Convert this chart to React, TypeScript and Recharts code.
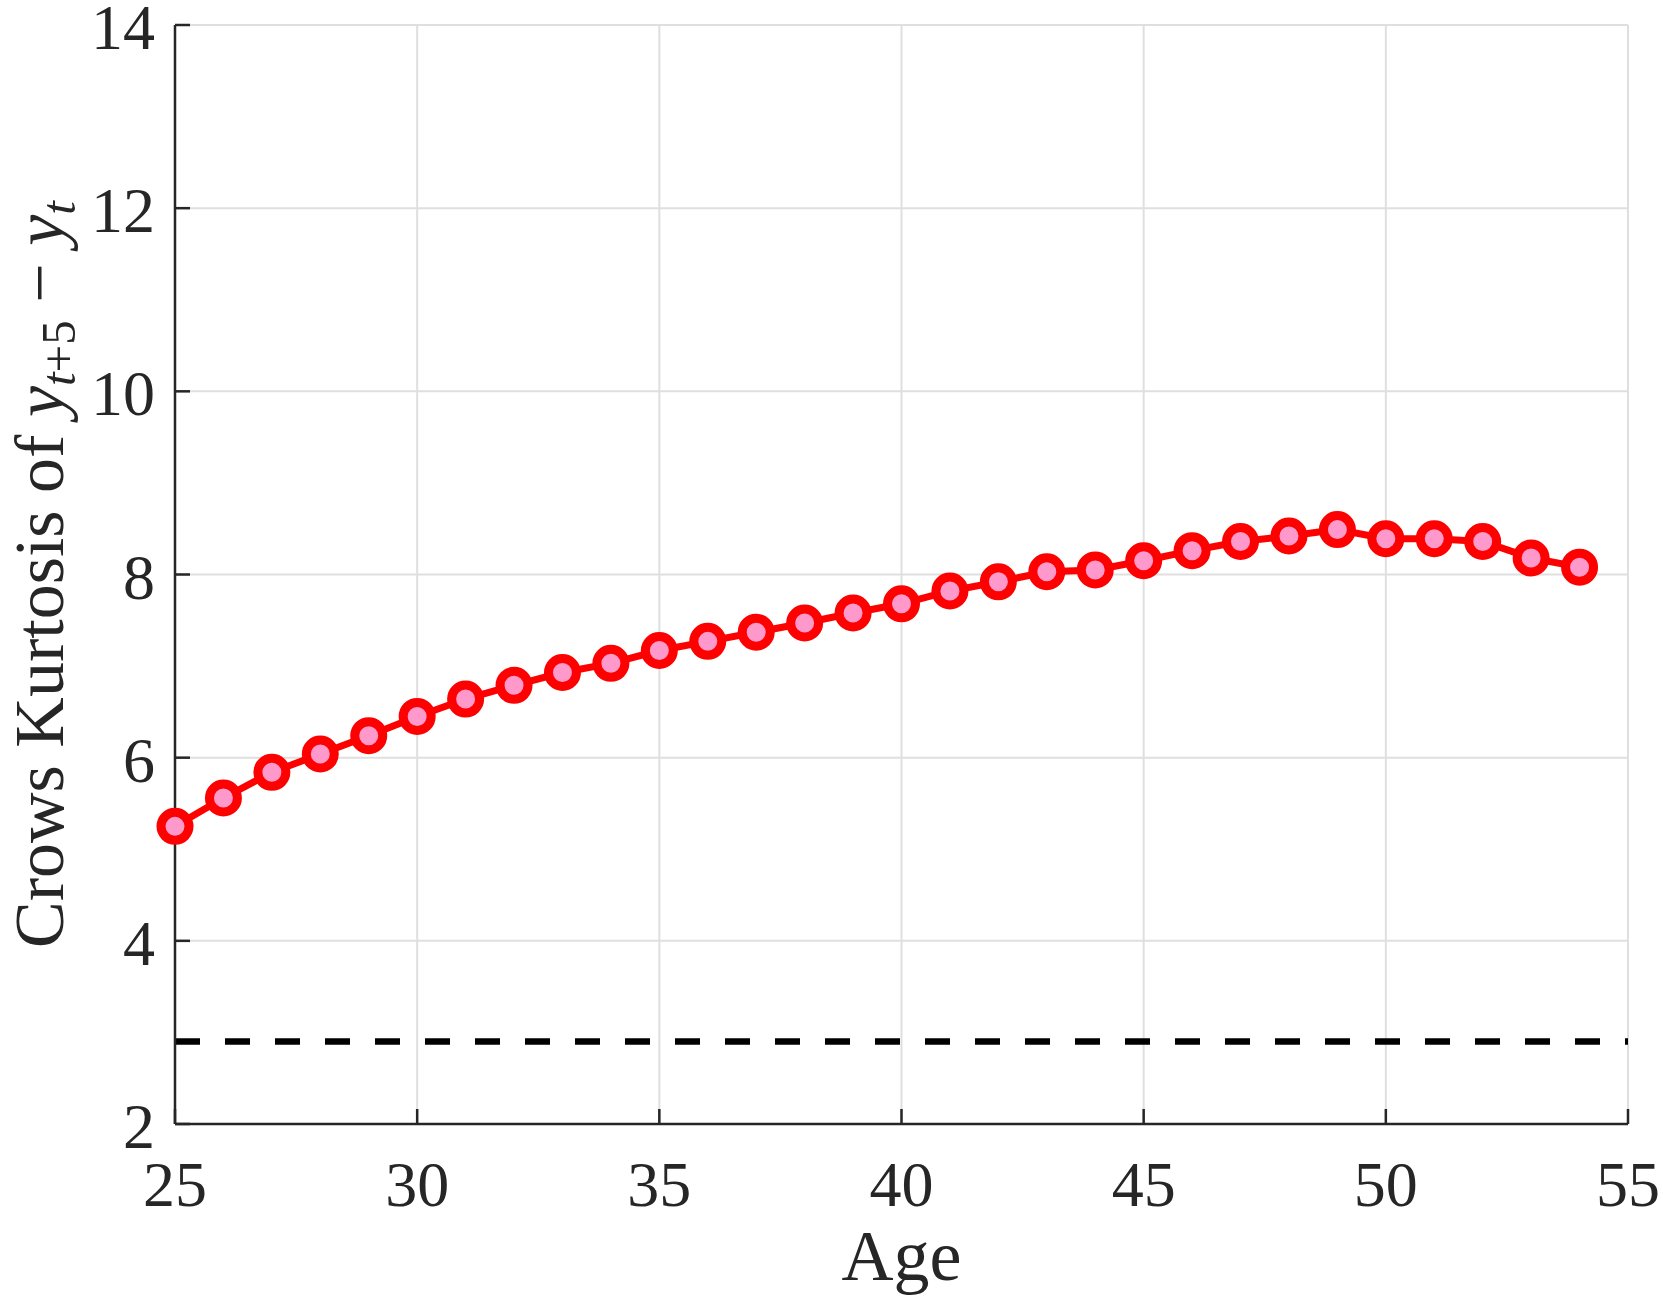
import React from "react";
import { CartesianGrid, Line, LineChart, ReferenceLine, XAxis, YAxis } from "recharts";

// Crows kurtosis of 5-year income changes by age
const AGES = [
  25, 26, 27, 28, 29, 30, 31, 32, 33, 34, 35, 36, 37, 38, 39, 40, 41, 42, 43, 44, 45, 46, 47, 48, 49,
  50, 51, 52, 53, 54,
];
const KURTOSIS = [
  5.25, 5.56, 5.84, 6.04, 6.24, 6.45, 6.64, 6.79, 6.93, 7.03, 7.17, 7.27, 7.37, 7.47, 7.58, 7.68,
  7.82, 7.92, 8.03, 8.05, 8.15, 8.26, 8.36, 8.42, 8.49, 8.39, 8.39, 8.36, 8.18, 8.08,
];
const BASELINE_LEVEL = 2.9;

const X_DOMAIN = [25, 55];
const Y_DOMAIN = [2, 14];
const X_TICKS = [25, 30, 35, 40, 45, 50, 55];
const Y_TICKS = [2, 4, 6, 8, 10, 12, 14];

const data = AGES.map((age, i) => ({ age, k: KURTOSIS[i] }));

const W = 1663;
const H = 1297;
const FONT = "'Liberation Serif', 'Times New Roman', serif";
const AXIS = "#262626";
const GRID = "#dfdfdf";
const TICK_LEN = 15;

/* inward tick marks, MATLAB style — one renderer per side */
function BottomTick({ x, y, payload }: any) {
  return (
    <g>
      <line x1={x} y1={y} x2={x} y2={y - TICK_LEN} stroke={AXIS} strokeWidth={2.5} />
      <text x={x} y={y + 82} textAnchor="middle" fontFamily={FONT} fontSize={64} fill={AXIS}>
        {payload.value}
      </text>
    </g>
  );
}

function LeftTick({ x, y, payload }: any) {
  return (
    <g>
      <line x1={x} y1={y} x2={x + TICK_LEN} y2={y} stroke={AXIS} strokeWidth={2.5} />
      <text x={x - 20} y={y + 24} textAnchor="end" fontFamily={FONT} fontSize={64} fill={AXIS}>
        {payload.value}
      </text>
    </g>
  );
}

function TopTick({ x, y }: any) {
  return <line x1={x} y1={y} x2={x} y2={y + TICK_LEN} stroke={AXIS} strokeWidth={2.5} />;
}

function RightTick({ x, y }: any) {
  return <line x1={x} y1={y} x2={x - TICK_LEN} y2={y} stroke={AXIS} strokeWidth={2.5} />;
}

function XLabel({ viewBox }: any) {
  return (
    <text
      x={viewBox.x + viewBox.width / 2}
      y={viewBox.y + 156}
      textAnchor="middle"
      fontFamily={FONT}
      fontSize={72}
      fill={AXIS}
    >
      Age
    </text>
  );
}

function YLabel({ viewBox }: any) {
  // baseline kept far enough in that the em box stays on the page
  const cx = 63;
  const cy = viewBox.y + viewBox.height / 2;
  return (
    <text
      x={cx}
      y={cy}
      transform={`rotate(-90 ${cx} ${cy})`}
      textAnchor="middle"
      fontFamily={FONT}
      fontSize={70}
      fill={AXIS}
    >
      Crows Kurtosis of{" "}
      <tspan fontStyle="italic">y</tspan>
      <tspan fontStyle="italic" fontSize={49} dy={12}>
        t
      </tspan>
      <tspan fontSize={49}>+5</tspan>
      <tspan dy={-12}> − </tspan>
      <tspan fontStyle="italic">y</tspan>
      <tspan fontStyle="italic" fontSize={49} dy={12}>
        t
      </tspan>
    </text>
  );
}

export default function App() {
  return (
    <div style={{ width: W, height: H, background: "#fff" }}>
      <style>{"body{margin:0}"}</style>
      <LineChart width={W} height={H} data={data} margin={{ top: 25, right: 35, bottom: 0, left: 0 }}>
        <CartesianGrid stroke={GRID} strokeWidth={2} />
        <XAxis
          dataKey="age"
          type="number"
          domain={X_DOMAIN}
          ticks={X_TICKS}
          height={173}
          tickSize={0}
          tickMargin={0}
          tickLine={false}
          tick={<BottomTick />}
          axisLine={{ stroke: AXIS, strokeWidth: 2.5 }}
          label={{ content: XLabel }}
        />
        <XAxis
          xAxisId="top"
          orientation="top"
          dataKey="age"
          type="number"
          domain={X_DOMAIN}
          ticks={X_TICKS}
          height={0}
          tickSize={0}
          tickMargin={0}
          tickLine={false}
          tick={<TopTick />}
          axisLine={{ stroke: AXIS, strokeWidth: 2.5 }}
        />
        <YAxis
          type="number"
          domain={Y_DOMAIN}
          ticks={Y_TICKS}
          width={175}
          tickSize={0}
          tickMargin={0}
          tickLine={false}
          tick={<LeftTick />}
          axisLine={{ stroke: AXIS, strokeWidth: 2.5 }}
          label={{ content: YLabel }}
        />
        <YAxis
          yAxisId="right"
          orientation="right"
          type="number"
          domain={Y_DOMAIN}
          ticks={Y_TICKS}
          width={0}
          tickSize={0}
          tickMargin={0}
          tickLine={false}
          tick={<RightTick />}
          axisLine={{ stroke: AXIS, strokeWidth: 2.5 }}
        />
        <ReferenceLine
          y={BASELINE_LEVEL}
          stroke="#000"
          strokeWidth={6.5}
          strokeDasharray="25 25"
        />
        <Line
          isAnimationActive={false}
          type="linear"
          dataKey="k"
          stroke="#ff0000"
          strokeWidth={7}
          dot={{ r: 14, fill: "#ff99cc", stroke: "#ff0000", strokeWidth: 9 }}
          activeDot={false}
        />
      </LineChart>
    </div>
  );
}
